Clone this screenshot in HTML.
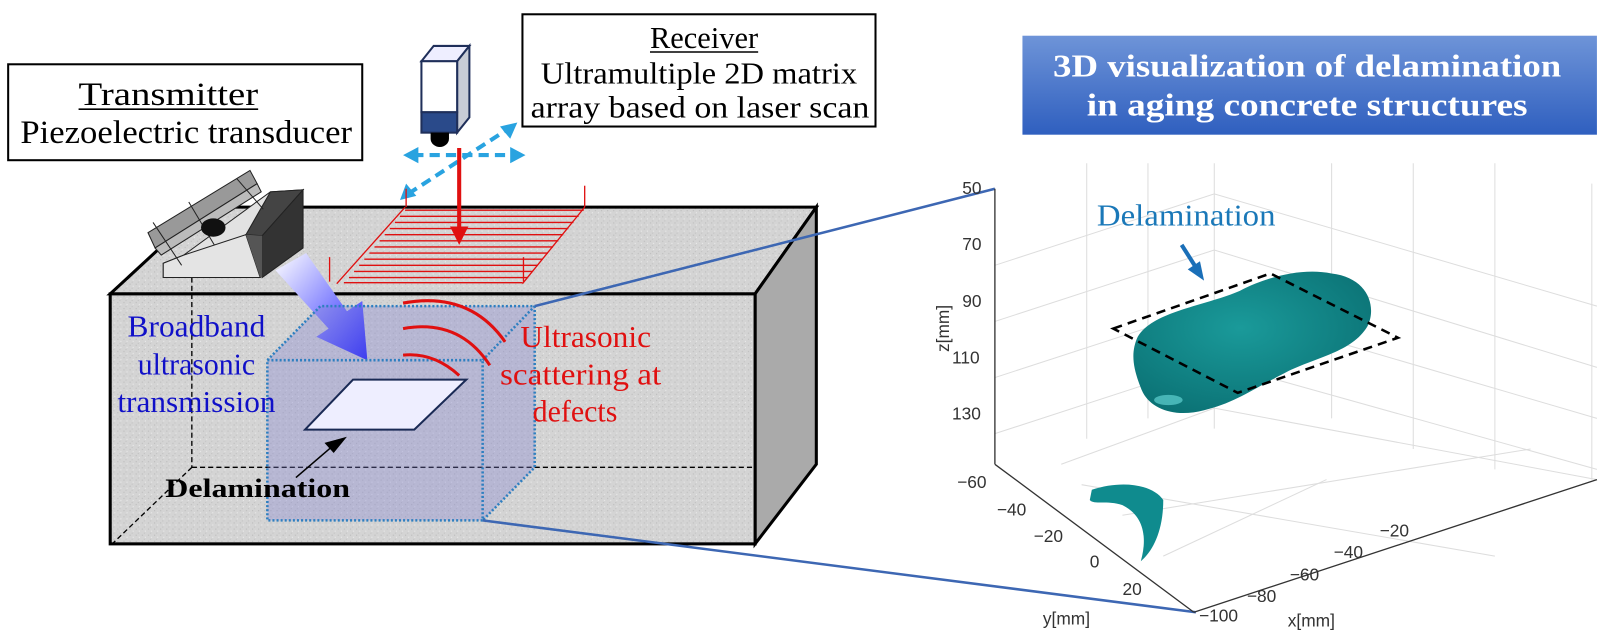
<!DOCTYPE html>
<html><head><meta charset="utf-8"><style>
body{margin:0;background:#fff;width:1600px;height:641px;overflow:hidden}
svg{display:block}
.s{font-family:"Liberation Serif",serif}
.a{font-family:"Liberation Sans",sans-serif;font-size:17px;fill:#333}
</style></head><body>
<svg width="1600" height="641" viewBox="0 0 1600 641" xmlns="http://www.w3.org/2000/svg">
<defs>
<pattern id="grain" width="6" height="6" patternUnits="userSpaceOnUse">
<rect width="6" height="6" fill="#d4d4d4"/><rect x="1" y="2" width="1" height="1" fill="#b8b8b8"/><rect x="4" y="4" width="1" height="1" fill="#eee"/><rect x="3" y="0" width="1" height="1" fill="#c0c0c0"/>
</pattern>
<linearGradient id="tg" x1="0" y1="0" x2="0" y2="1"><stop offset="0" stop-color="#6e94d8"/><stop offset="1" stop-color="#2f5fbf"/></linearGradient>
<linearGradient id="ba" x1="0" y1="0" x2="1" y2="1"><stop offset="0" stop-color="#fff"/><stop offset="1" stop-color="#1a1aff"/></linearGradient>
<radialGradient id="blob" cx="0.45" cy="0.4" r="0.7"><stop offset="0" stop-color="#1a9a9a"/><stop offset="1" stop-color="#0a6f72"/></radialGradient>
</defs>
<g transform="scale(1.0204)">
<polygon points="108,288 200,203 800,203 740,288" fill="url(#grain)" stroke="#000" stroke-width="3"/>
<polygon points="740,288 800,203 800,455 740,533" fill="#aaa" stroke="#000" stroke-width="3"/>
<rect x="108" y="288" width="632" height="245" fill="url(#grain)" stroke="#000" stroke-width="3"/>
<g stroke="#000" stroke-width="1.3" stroke-dasharray="5,3" fill="none">
<line x1="188" y1="272" x2="188" y2="458"/><line x1="188" y1="458" x2="740" y2="458"/><line x1="188" y1="458" x2="110" y2="533"/></g>
<polygon points="160,272 255,272 241,230 257,231 297,186 265,188 180,250 160,258" fill="#e2e2e2" stroke="#222"/>
<polygon points="160,272 255,272 241,230 180,250 160,258" fill="#e4e4e4" stroke="#222"/>
<polygon points="241,230 265,188 297,186 257,231" fill="#444" stroke="#222"/>
<polygon points="257,231 297,186 297,243 257,272" fill="#333" stroke="#222"/>
<polygon points="241,230 257,231 257,272 255,272" fill="#555"/>
<polygon points="145,228 245,167 252,180 152,243" fill="#999" stroke="#222"/>
<polygon points="152,243 252,180 256,188 158,250" fill="#bbb" stroke="#222"/>
<line x1="150" y1="218" x2="178" y2="260" stroke="#222"/><line x1="185" y1="198" x2="210" y2="240" stroke="#222"/><line x1="232" y1="175" x2="258" y2="205" stroke="#222"/>
<ellipse cx="209" cy="223" rx="12" ry="9" fill="#111"/>
<polygon points="413,60 425,45 460,45 448,60" fill="#eef" stroke="#1f2f5a" stroke-width="2"/>
<polygon points="448,60 460,45 460,115 448,130" fill="#c8ccd6" stroke="#1f2f5a" stroke-width="2"/>
<rect x="413" y="60" width="35" height="50" fill="#fff" stroke="#1f2f5a" stroke-width="2"/>
<rect x="413" y="110" width="35" height="20" fill="#2a4a8a" stroke="#1f2f5a" stroke-width="2"/>
<path d="M422,130 h18 v6 a9,8 0 0 1 -18,0z" fill="#000"/>
<g stroke="#29a3e0" stroke-width="4" stroke-dasharray="10,6" fill="none">
<line x1="405" y1="152" x2="505" y2="152"/><line x1="400" y1="190" x2="500" y2="125"/></g>
<polygon points="395,152 410,144 410,160" fill="#29a3e0"/><polygon points="515,152 500,144 500,160" fill="#29a3e0"/>
<polygon points="392,196 398,180 408,192" fill="#29a3e0"/><polygon points="507,120 490,124 500,136" fill="#29a3e0"/>
<g stroke="#e01010" stroke-width="1.3">
<line x1="397" y1="206" x2="572" y2="206"/><line x1="392" y1="212" x2="567" y2="212"/><line x1="387" y1="218" x2="562" y2="218"/><line x1="382" y1="224" x2="557" y2="224"/><line x1="377" y1="230" x2="552" y2="230"/><line x1="372" y1="236" x2="547" y2="236"/><line x1="367" y1="242" x2="542" y2="242"/><line x1="362" y1="248" x2="537" y2="248"/><line x1="357" y1="254" x2="532" y2="254"/><line x1="352" y1="260" x2="527" y2="260"/><line x1="347" y1="266" x2="522" y2="266"/><line x1="342" y1="272" x2="517" y2="272"/><line x1="337" y1="277" x2="512" y2="277"/>
<line x1="397" y1="203" x2="330" y2="278"/><line x1="573" y1="203" x2="512" y2="278"/>
<line x1="398" y1="185" x2="398" y2="203"/><line x1="573" y1="182" x2="573" y2="203"/><line x1="323" y1="252" x2="323" y2="276"/><line x1="513" y1="252" x2="513" y2="276"/></g>
<line x1="450" y1="145" x2="450" y2="225" stroke="#e01010" stroke-width="4"/>
<polygon points="441,222 459,222 450,240" fill="#e01010"/>
<polygon points="270,265 300,248 340,305 355,295 360,353 310,330 322,322" fill="url(#ba)"/>
<polygon points="262,353 314,300 524,300 524,458 473,510 262,510" fill="#8080d0" opacity="0.35"/>
<g stroke="#2e7fc0" stroke-width="2.5" stroke-dasharray="2,2" fill="none">
<rect x="262" y="353" width="211" height="157"/>
<polyline points="262,353 314,300 524,300 524,458 473,510"/><line x1="473" y1="353" x2="524" y2="300"/></g>
<polygon points="346,372 457,372 406,421 299,421" fill="#eef" stroke="#1a2a55" stroke-width="2"/>
<line x1="290" y1="468" x2="325" y2="438" stroke="#000" stroke-width="1.5"/><polygon points="340,428 318,434 327,444" fill="#000"/>
<g stroke="#e01010" stroke-width="3" fill="none">
<path d="M395,297 Q460,285 495,335"/><path d="M395,322 Q450,312 480,358"/><path d="M395,348 Q425,345 450,368"/></g>
<line x1="524" y1="300" x2="975" y2="185" stroke="#3d67b3" stroke-width="2.5"/>
<line x1="473" y1="510" x2="1172" y2="600" stroke="#3d67b3" stroke-width="2.5"/>
<rect x="8" y="63" width="347" height="94" fill="#fff" stroke="#000" stroke-width="2"/>
<text class="s" x="77" y="103" font-size="32" textLength="176" lengthAdjust="spacingAndGlyphs">Transmitter</text>
<line x1="77" y1="107" x2="253" y2="107" stroke="#000" stroke-width="1.5"/>
<text class="s" x="20" y="140" font-size="32" textLength="325" lengthAdjust="spacingAndGlyphs">Piezoelectric transducer</text>
<rect x="512" y="14" width="346" height="110" fill="#fff" stroke="#000" stroke-width="2"/>
<text class="s" x="637" y="47" font-size="30" textLength="106" lengthAdjust="spacingAndGlyphs">Receiver</text>
<line x1="637" y1="51" x2="743" y2="51" stroke="#000" stroke-width="1.5"/>
<text class="s" x="530" y="82" font-size="30" textLength="310" lengthAdjust="spacingAndGlyphs">Ultramultiple 2D matrix</text>
<text class="s" x="520" y="115" font-size="30" textLength="332" lengthAdjust="spacingAndGlyphs">array based on laser scan</text>
<g class="s" font-size="30" fill="#1010c8">
<text x="125" y="330" textLength="135" lengthAdjust="spacingAndGlyphs">Broadband</text>
<text x="135" y="367" textLength="115" lengthAdjust="spacingAndGlyphs">ultrasonic</text>
<text x="115" y="404" textLength="155" lengthAdjust="spacingAndGlyphs">transmission</text></g>
<g class="s" font-size="30" fill="#e01010">
<text x="510" y="340" textLength="128" lengthAdjust="spacingAndGlyphs">Ultrasonic</text>
<text x="490" y="377" textLength="158" lengthAdjust="spacingAndGlyphs">scattering at</text>
<text x="522" y="413" textLength="83" lengthAdjust="spacingAndGlyphs">defects</text></g>
<text class="s" x="162" y="487" font-size="26" font-weight="bold" textLength="181" lengthAdjust="spacingAndGlyphs">Delamination</text>
<rect x="1002" y="35" width="563" height="97" fill="url(#tg)"/>
<g class="s" font-size="31" font-weight="bold" fill="#fff">
<text x="1032" y="75" textLength="498" lengthAdjust="spacingAndGlyphs">3D visualization of delamination</text>
<text x="1065" y="113" textLength="432" lengthAdjust="spacingAndGlyphs">in aging concrete structures</text></g>
<g stroke="#ddd" stroke-width="1" fill="none">
<line x1="1065" y1="160" x2="1065" y2="430"/><line x1="1125" y1="160" x2="1125" y2="410"/><line x1="1190" y1="160" x2="1190" y2="420"/><line x1="1305" y1="160" x2="1305" y2="410"/><line x1="1385" y1="160" x2="1385" y2="440"/><line x1="1465" y1="160" x2="1465" y2="460"/><line x1="1560" y1="180" x2="1560" y2="470"/>
<polyline points="975,260 1190,190 1565,300"/><polyline points="975,315 1190,245 1565,360"/><polyline points="975,370 1190,300 1565,410"/><polyline points="975,425 1190,355 1565,460"/>
<line x1="1190" y1="400" x2="1565" y2="470"/><line x1="1190" y1="400" x2="1040" y2="455"/>
<line x1="1060" y1="475" x2="1465" y2="545"/><line x1="1100" y1="505" x2="1500" y2="440"/><line x1="1140" y1="545" x2="1300" y2="470"/>
</g>
<g stroke="#333" stroke-width="1.3" fill="none"><line x1="975" y1="185" x2="975" y2="455"/><line x1="975" y1="455" x2="1170" y2="600"/><line x1="1170" y1="600" x2="1565" y2="470"/></g>
<g class="a">
<text x="943" y="190">50</text><text x="943" y="245">70</text><text x="943" y="301">90</text><text x="933" y="356">110</text><text x="933" y="411">130</text>
<text x="938" y="478">−60</text><text x="977" y="505">−40</text><text x="1013" y="531">−20</text><text x="1068" y="556">0</text><text x="1100" y="583">20</text>
<text x="1022" y="612">y[mm]</text>
<text x="1175" y="609">−100</text><text x="1222" y="590">−80</text><text x="1264" y="569">−60</text><text x="1307" y="547">−40</text><text x="1352" y="526">−20</text>
<text x="1262" y="614">x[mm]</text>
<text transform="translate(930,345) rotate(-90)">z[mm]</text></g>
<path d="M1115,330 C1130,305 1180,300 1215,285 C1240,272 1275,262 1305,268 C1340,272 1350,300 1340,320 C1325,345 1290,350 1260,365 C1230,380 1210,395 1180,402 C1150,410 1125,400 1118,380 C1110,360 1108,345 1115,330Z" fill="url(#blob)"/>
<ellipse cx="1145" cy="392" rx="14" ry="5" fill="#5fd0d0" opacity="0.7"/>
<polygon points="1091,322 1245,268 1370,331 1213,385" fill="none" stroke="#000" stroke-width="2.5" stroke-dasharray="9,6"/>
<path d="M1070,480 C1100,470 1130,475 1140,490 C1140,520 1130,540 1118,550 C1125,525 1120,505 1100,495 C1085,490 1072,495 1068,490Z" fill="#0f8b8e"/>
<text class="s" x="1075" y="221" font-size="30" fill="#1a78b8" textLength="175" lengthAdjust="spacingAndGlyphs">Delamination</text>
<line x1="1158" y1="240" x2="1172" y2="262" stroke="#1a6fb8" stroke-width="4"/><polygon points="1180,275 1164,264 1176,256" fill="#1a6fb8"/>
</g>
</svg>
</body></html>
